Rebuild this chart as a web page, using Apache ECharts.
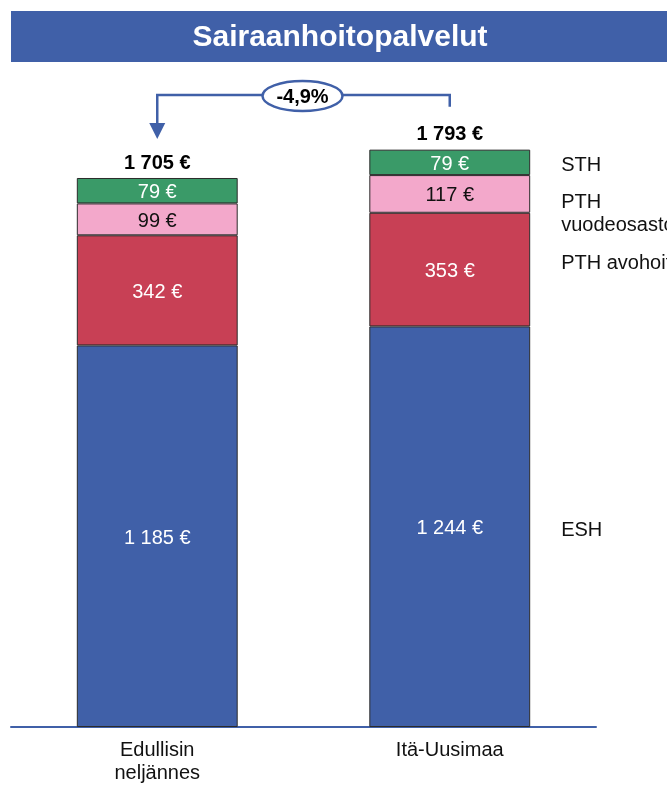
<!DOCTYPE html>
<html>
<head>
<meta charset="utf-8">
<script src="https://cdn.jsdelivr.net/npm/echarts@6/dist/echarts.min.js"></script>
<style>
  html, body { margin: 0; padding: 0; background: #fff; }
  #chart { width: 667px; height: 785px; }
</style>
</head>
<body>
<div id="chart"></div>
<script>
// Sairaanhoitopalvelut: kustannukset asukasta kohden (€)
const categories = ['Edullisin\nneljännes', 'Itä-Uusimaa'];
const esh = [1185, 1244];
const pthAvohoito = [342, 353];
const pthVuodeosasto = [99, 117];
const sth = [79, 79];
const segmentNames = ['ESH', 'PTH avohoito', 'PTH\nvuodeosastohoito', 'STH'];

const totals = categories.map((_, i) => esh[i] + pthAvohoito[i] + pthVuodeosasto[i] + sth[i]);
const fmt = v => String(v).replace(/\B(?=(\d{3})+(?!\d))/g, ' ') + ' €';

const FONT = 'Liberation Sans, Arial, sans-serif';
const colors = {
  esh: '#4060A8',
  avo: '#C84055',
  vuode: '#F3A8CB',
  sth: '#3A9A68',
  border: '#2b2b2b'
};

function seg(name, data, color, labelColor) {
  return {
    name: name,
    type: 'bar',
    stack: 'total',
    data: data,
    barWidth: '55%',
    itemStyle: { color: color, borderColor: colors.border, borderWidth: 1 },
    label: {
      show: true,
      position: 'inside',
      offset: [0, 2],
      formatter: p => fmt(p.value),
      color: labelColor,
      fontFamily: FONT,
      fontSize: 20
    },
    emphasis: { disabled: true }
  };
}

const chart = echarts.init(document.getElementById('chart'), null, { renderer: 'canvas' });

const option = {
  animation: false,
  backgroundColor: '#fff',
  grid: { left: 11, right: 71, top: 83, bottom: 53, containLabel: false },
  xAxis: {
    type: 'category',
    data: categories,
    axisLine: { show: true, lineStyle: { color: '#4060A8', width: 2 } },
    axisTick: { show: false },
    axisLabel: {
      color: '#111',
      fontFamily: FONT,
      fontSize: 20,
      lineHeight: 23,
      margin: 12
    }
  },
  yAxis: {
    type: 'value',
    min: 0,
    max: 2000,
    show: false
  },
  series: [
    seg('ESH', esh, colors.esh, '#fff'),
    seg('PTH avohoito', pthAvohoito, colors.avo, '#fff'),
    seg('PTH vuodeosastohoito', pthVuodeosasto, colors.vuode, '#111'),
    seg('STH', sth, colors.sth, '#fff'),
    {
      name: 'Yhteensä',
      type: 'bar',
      data: totals,
      barWidth: '55%',
      barGap: '-100%',
      z: 1,
      itemStyle: { color: 'rgba(0,0,0,0)' },
      label: {
        show: true,
        position: 'top',
        distance: 5,
        formatter: p => fmt(p.value),
        color: '#000',
        fontWeight: 'bold',
        fontFamily: FONT,
        fontSize: 20
      },
      emphasis: { disabled: true }
    }
  ]
};

chart.setOption(option);

// Title band, right-hand segment names and the change arrow, placed from the axes
function drawOverlay() {
  const px = (ci, v) => chart.convertToPixel({ gridIndex: 0 }, [ci, v]);
  const last = categories.length - 1;
  const barHalf = 0.55 * (px(1, 0)[0] - px(0, 0)[0]) / 2;
  const rightX = px(last, 0)[0] + barHalf + 31;

  const segVals = [esh[last], pthAvohoito[last], pthVuodeosasto[last], sth[last]];
  const nudges = [4, -6, 20, 3];
  let base = 0;
  const elements = [];

  elements.push({
    type: 'rect',
    shape: { x: 11, y: 11, width: 656, height: 51 },
    style: { fill: '#4060A8' }
  });
  elements.push({
    type: 'text',
    x: 340, y: 38,
    style: {
      text: 'Sairaanhoitopalvelut',
      fill: '#fff',
      font: 'bold 30px ' + FONT,
      align: 'center',
      verticalAlign: 'middle'
    }
  });

  segVals.forEach((v, k) => {
    const mid = px(last, base + v / 2)[1];
    base += v;
    elements.push({
      type: 'text',
      x: rightX,
      y: mid + nudges[k],
      style: {
        text: segmentNames[k],
        fill: '#111',
        font: '20px ' + FONT,
        lineHeight: 23,
        align: 'left',
        verticalAlign: 'middle'
      }
    });
  });

  // Connector from the second bar's total down to the first bar's total
  const x0 = px(0, 0)[0];
  const x1 = px(1, 0)[0];
  const top0 = px(0, totals[0])[1];
  const top1 = px(1, totals[1])[1];
  const lineY = 95;
  const tipY = top0 - 39;
  elements.push({
    type: 'polyline',
    shape: { points: [[x1, top1 - 43], [x1, lineY], [x0, lineY], [x0, tipY - 12]] },
    style: { stroke: '#4060A8', lineWidth: 2.5, fill: null }
  });
  elements.push({
    type: 'polygon',
    shape: { points: [[x0 - 8, tipY - 16], [x0 + 8, tipY - 16], [x0, tipY]] },
    style: { fill: '#4060A8' }
  });
  const change = (totals[0] - totals[1]) / totals[1] * 100;
  const midX = (x0 + x1) / 2;
  elements.push({
    type: 'ellipse',
    shape: { cx: midX - 1, cy: lineY + 1, rx: 40, ry: 15 },
    style: { fill: '#fff', stroke: '#4060A8', lineWidth: 2.5 }
  });
  elements.push({
    type: 'text',
    x: midX - 1, y: lineY + 2,
    style: {
      text: change.toFixed(1).replace('.', ',') + '%',
      fill: '#000',
      font: 'bold 20px ' + FONT,
      align: 'center',
      verticalAlign: 'middle'
    }
  });

  chart.setOption({ graphic: { elements: elements } });
}
drawOverlay();
</script>
</body>
</html>
